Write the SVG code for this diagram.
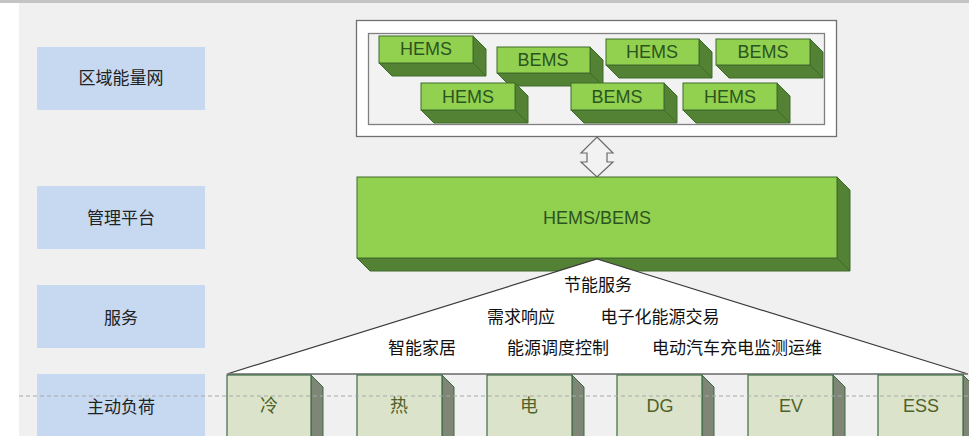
<svg xmlns="http://www.w3.org/2000/svg" width="969" height="436" viewBox="0 0 969 436">
<style>
.lbl{fill:#c6d9f0}
.lt{font-family:"Liberation Sans","Noto Sans CJK SC",sans-serif;font-size:17px;fill:#222;text-anchor:middle}
.gf{fill:#92d050;stroke:#3f6b2a;stroke-width:1}
.gd{fill:#548235;stroke:#3f6b2a;stroke-width:1}
.gt{font-family:"Liberation Sans",sans-serif;font-size:18px;fill:#2b5520;text-anchor:middle}
.bf{fill:#dce3cb;stroke:#3d6b45;stroke-width:1.2}
.bd{fill:#7f8676;stroke:#3d6b45;stroke-width:1}
.bt{font-family:"Liberation Sans","Noto Sans CJK SC",sans-serif;font-size:18px;fill:#4f6228;text-anchor:middle}
.st{font-family:"Liberation Sans","Noto Sans CJK SC",sans-serif;font-size:17px;fill:#111;text-anchor:middle}
</style>
<rect x="0" y="0" width="969" height="436" fill="#ffffff"/>
<rect x="19" y="3" width="950" height="433" fill="#f0f0f0"/>
<rect x="0" y="0" width="969" height="3" fill="#c4c4c4"/>

<g id="label-region"><rect class="lbl" x="37" y="47" width="168" height="63"/><text class="lt" x="121" y="84">区域能量网</text></g>
<g id="label-platform"><rect class="lbl" x="37" y="186" width="168" height="63"/><text class="lt" x="121" y="224">管理平台</text></g>
<g id="label-service"><rect class="lbl" x="37" y="285" width="168" height="63"/><text class="lt" x="121" y="324">服务</text></g>
<g id="label-load"><rect class="lbl" x="37" y="374" width="168" height="70"/><text class="lt" x="121" y="413">主动负荷</text></g>

<g id="region-box">
<rect x="356.5" y="20.5" width="480" height="116" fill="#ffffff" stroke="#707070" stroke-width="1.3"/>
<rect x="368.5" y="33.5" width="456" height="91" fill="#f2f2f2" stroke="#808080" stroke-width="1.3"/>
</g>

<g id="hems1">
<polygon class="gd" points="473,36 486,49 486,76 473,63"/><polygon class="gd" points="379,63 473,63 486,76 392,76"/>
<rect class="gf" x="379" y="36" width="94" height="27"/><text class="gt" x="426" y="55">HEMS</text></g>
<g id="bems1">
<polygon class="gd" points="590,47 603,60 603,86 590,73"/><polygon class="gd" points="497,73 590,73 603,86 510,86"/>
<rect class="gf" x="497" y="47" width="93" height="26"/><text class="gt" x="543" y="66">BEMS</text></g>
<g id="hems2">
<polygon class="gd" points="699,39 712,52 712,78 699,65"/><polygon class="gd" points="606,65 699,65 712,78 619,78"/>
<rect class="gf" x="606" y="39" width="93" height="26"/><text class="gt" x="652" y="58">HEMS</text></g>
<g id="bems2">
<polygon class="gd" points="810,39 823,52 823,78 810,65"/><polygon class="gd" points="716,65 810,65 823,78 729,78"/>
<rect class="gf" x="716" y="39" width="94" height="26"/><text class="gt" x="763" y="58">BEMS</text></g>
<g id="hems3">
<polygon class="gd" points="515,83 528,96 528,123 515,110"/><polygon class="gd" points="421,110 515,110 528,123 434,123"/>
<rect class="gf" x="421" y="83" width="94" height="27"/><text class="gt" x="468" y="103">HEMS</text></g>
<g id="bems3">
<polygon class="gd" points="664,83 677,96 677,123 664,110"/><polygon class="gd" points="571,110 664,110 677,123 584,123"/>
<rect class="gf" x="571" y="83" width="93" height="27"/><text class="gt" x="617" y="103">BEMS</text></g>
<g id="hems4">
<polygon class="gd" points="777,83 790,96 790,123 777,110"/><polygon class="gd" points="683,110 777,110 790,123 696,123"/>
<rect class="gf" x="683" y="83" width="94" height="27"/><text class="gt" x="730" y="103">HEMS</text></g>

<g id="connectors">
<polygon points="597,137 613,153 607,153 607,162 613,162 597,177 581,162 587,162 587,153 581,153" fill="#f2f2f2" stroke="#6a6a6a" stroke-width="1.2" stroke-linejoin="miter"/>
</g>

<g id="platform">
<polygon class="gd" points="837,177 850,190 850,271 837,258"/><polygon class="gd" points="357,258 837,258 850,271 370,271"/>
<rect class="gf" x="357" y="177" width="480" height="81"/>
<text class="gt" x="597" y="224">HEMS/BEMS</text>
</g>

<g id="services">
<polygon points="597,259 968,374 227,374" fill="#ffffff" stroke="#3a3a3a" stroke-width="1.2"/>
<line x1="227" y1="374" x2="968" y2="374" stroke="#8a8a8a" stroke-width="1.5"/>
<text class="st" x="598" y="291">节能服务</text>
<text class="st" x="521" y="323">需求响应</text>
<text class="st" x="660" y="323">电子化能源交易</text>
<text class="st" x="422" y="354">智能家居</text>
<text class="st" x="558" y="354">能源调度控制</text>
<text class="st" x="737" y="354">电动汽车充电监测运维</text>
</g>

<g id="load-cold"><polygon class="bd" points="311,375 323,387 323,440 311,440"/><rect class="bf" x="227" y="375" width="84" height="70"/><text class="bt" x="269" y="412">冷</text></g>
<g id="load-heat"><polygon class="bd" points="442,375 454,387 454,440 442,440"/><rect class="bf" x="357" y="375" width="85" height="70"/><text class="bt" x="399" y="412">热</text></g>
<g id="load-elec"><polygon class="bd" points="572,375 584,387 584,440 572,440"/><rect class="bf" x="487" y="375" width="85" height="70"/><text class="bt" x="529" y="412">电</text></g>
<g id="load-dg"><polygon class="bd" points="702,375 714,387 714,440 702,440"/><rect class="bf" x="617" y="375" width="85" height="70"/><text class="bt" x="660" y="412">DG</text></g>
<g id="load-ev"><polygon class="bd" points="833,375 845,387 845,440 833,440"/><rect class="bf" x="748" y="375" width="85" height="70"/><text class="bt" x="791" y="412">EV</text></g>
<g id="load-ess"><polygon class="bd" points="963,375 975,387 975,440 963,440"/><rect class="bf" x="878" y="375" width="85" height="70"/><text class="bt" x="921" y="412">ESS</text></g>

<line x1="19" y1="396" x2="969" y2="396" stroke="#a8a8a8" stroke-width="1" stroke-dasharray="4,3"/>
</svg>
